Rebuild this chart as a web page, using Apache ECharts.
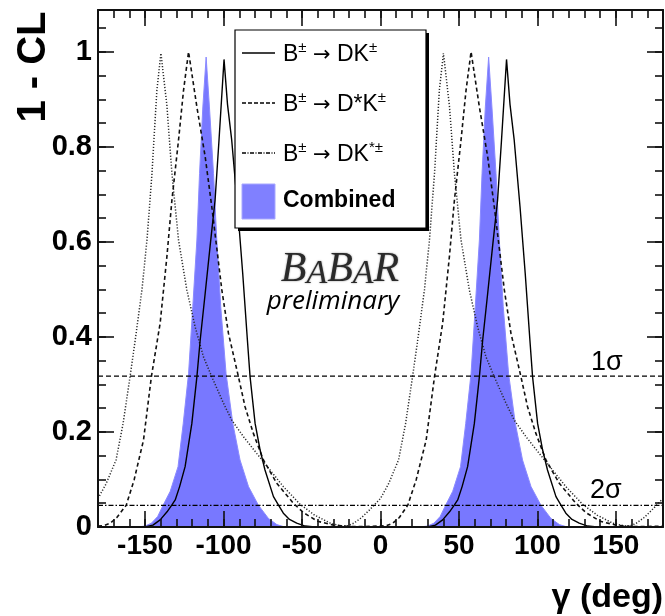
<!DOCTYPE html>
<html>
<head>
<meta charset="utf-8">
<script src="https://cdn.jsdelivr.net/npm/echarts@6/dist/echarts.min.js"></script>
<style>
  html, body { margin: 0; padding: 0; background: #ffffff; }
  #chart { width: 665px; height: 616px; }
</style>
</head>
<body>
<div id="chart"></div>
<script>
// 1 - CL scans versus gamma (deg), [gamma, 1-CL] pairs
const dkCurve = [
  [-180, 0], [-150, 0], [-145, 0.004], [-140.4, 0.015], [-136, 0.032], [-133, 0.046],
  [-130.8, 0.057], [-128, 0.085], [-124.5, 0.127], [-120.2, 0.218], [-117, 0.316],
  [-114.9, 0.393], [-111.7, 0.492], [-108.6, 0.590], [-105.4, 0.688], [-102.9, 0.814],
  [-99.7, 0.984], [-97.5, 0.89], [-94.8, 0.814], [-91.1, 0.674], [-87.8, 0.534],
  [-84.8, 0.393], [-83.1, 0.316], [-79.9, 0.218], [-76.7, 0.162], [-73.6, 0.120],
  [-68.2, 0.064], [-65, 0.046], [-61.9, 0.029], [-58, 0.016], [-53.4, 0.008],
  [-48, 0.002], [-42, 0], [30, 0], [35, 0.004], [39.6, 0.015], [44, 0.032], [47, 0.046],
  [49.2, 0.057], [52, 0.085], [55.5, 0.127], [59.8, 0.218], [63, 0.316], [65.1, 0.393],
  [68.3, 0.492], [71.4, 0.590], [74.6, 0.688], [77.1, 0.814], [80.3, 0.984], [82.5, 0.89],
  [85.2, 0.814], [88.9, 0.674], [92.2, 0.534], [95.2, 0.393], [96.9, 0.316], [100.1, 0.218],
  [103.3, 0.162], [106.4, 0.120], [111.8, 0.064], [115, 0.046], [118.1, 0.029], [122, 0.016],
  [126.6, 0.008], [132, 0.002], [138, 0], [180, 0]
];

const dstarkCurve = [
  [-180, 0.002], [-176, 0.003], [-172.2, 0.008], [-168, 0.02], [-162, 0.046], [-157, 0.099],
  [-151, 0.183], [-146, 0.316], [-140.4, 0.429], [-136.1, 0.569], [-132.9, 0.688],
  [-128.7, 0.814], [-125.5, 0.919], [-122.3, 1.0], [-117, 0.884], [-111.7, 0.779],
  [-107.5, 0.674], [-101.1, 0.499], [-96.9, 0.408], [-90.5, 0.316], [-86.3, 0.253],
  [-81, 0.197], [-74.6, 0.141], [-66.1, 0.092], [-55.5, 0.050], [-49, 0.030], [-40, 0.012],
  [-30, 0.004], [-20, 0.001], [-10, 0.001], [0, 0.002], [4, 0.003], [7.8, 0.008], [12, 0.02],
  [17.4, 0.046], [22.7, 0.099], [29.1, 0.183], [34.4, 0.316], [39.6, 0.429], [43.9, 0.569],
  [47.1, 0.688], [51.3, 0.814], [54.5, 0.919], [57.7, 1.0], [63, 0.884], [68.3, 0.779],
  [72.5, 0.674], [78.9, 0.499], [83.1, 0.408], [89.5, 0.316], [93.7, 0.253], [99, 0.197],
  [105.4, 0.141], [113.9, 0.092], [124.5, 0.050], [131, 0.030], [140, 0.012], [150, 0.004],
  [160, 0.001], [170, 0.001], [180, 0.002]
];

const dkstarCurve = [
  [-180, 0.06], [-175, 0.09], [-168.5, 0.141], [-164, 0.218], [-159.6, 0.316], [-156.3, 0.393],
  [-152, 0.499], [-148.8, 0.604], [-145.6, 0.744], [-142.5, 0.919], [-139.9, 0.997],
  [-136.1, 0.887], [-132.9, 0.744], [-128.7, 0.604], [-123.4, 0.499], [-118.1, 0.421],
  [-112.8, 0.358], [-107.5, 0.316], [-100, 0.260], [-94.8, 0.225], [-87.3, 0.190],
  [-78.9, 0.155], [-70.4, 0.120], [-61.9, 0.085], [-51.3, 0.048], [-42, 0.025], [-32, 0.008],
  [-26, 0.003], [-21, 0.002], [-17, 0.008], [-12, 0.02], [-7, 0.036], [0, 0.06], [5, 0.09],
  [11.5, 0.141], [16, 0.218], [20.4, 0.316], [23.7, 0.393], [28, 0.499], [31.2, 0.604],
  [34.4, 0.744], [37.5, 0.919], [40.1, 0.997], [43.9, 0.887], [47.1, 0.744], [51.3, 0.604],
  [56.6, 0.499], [61.9, 0.421], [67.2, 0.358], [72.5, 0.316], [80, 0.260], [85.2, 0.225],
  [92.7, 0.190], [101.1, 0.155], [109.6, 0.120], [118.1, 0.085], [128.7, 0.048], [138, 0.025],
  [148, 0.008], [154, 0.003], [159, 0.002], [163, 0.008], [168, 0.02], [173, 0.036], [180, 0.06]
];

const combinedCurve = [
  [-180, 0], [-155, 0], [-150, 0.002], [-146, 0.008], [-142, 0.022], [-138.5, 0.046],
  [-134, 0.075], [-129, 0.127], [-125.7, 0.218], [-122.3, 0.323], [-119.6, 0.464],
  [-117, 0.604], [-115.3, 0.744], [-113.2, 0.884], [-111.1, 0.989], [-109, 0.884],
  [-106.4, 0.744], [-104.3, 0.604], [-101.8, 0.464], [-98.4, 0.323], [-94.1, 0.218],
  [-89.5, 0.141], [-84.1, 0.085], [-77.8, 0.046], [-71.4, 0.018], [-66, 0.005], [-62, 0.001],
  [-58, 0], [25, 0], [30, 0.002], [34, 0.008], [38, 0.022], [41.5, 0.046], [46, 0.075],
  [51, 0.127], [54.3, 0.218], [57.7, 0.323], [60.4, 0.464], [63, 0.604], [64.7, 0.744],
  [66.8, 0.884], [68.9, 0.989], [71, 0.884], [73.6, 0.744], [75.7, 0.604], [78.2, 0.464],
  [81.6, 0.323], [85.9, 0.218], [90.5, 0.141], [95.9, 0.085], [102.2, 0.046], [108.6, 0.018],
  [114, 0.005], [118, 0.001], [122, 0], [180, 0]
];

// confidence levels drawn as horizontal reference lines
const sigmaLevels = [0.3173, 0.0455];
const sigmaLabels = ['1σ', '2σ'];

// axis ticks and labels
const xMajorTicks = [-150, -100, -50, 0, 50, 100, 150];
const yMajorTicks = [0, 0.2, 0.4, 0.6, 0.8, 1];
const X_MIN = -180, X_MAX = 180, Y_MIN = 0, Y_MAX = 1.088;

const xMinorTicks = [];
for (let v = -170; v <= 170; v += 10) xMinorTicks.push(v);
const yMinorTicks = [];
for (let i = 0; i <= 21; i++) yMinorTicks.push(Math.round(i * 5) / 100);

const FONT = "'Liberation Sans', Arial, Helvetica, sans-serif";
const SERIF = "'Liberation Serif', 'Times New Roman', serif";
const chart = echarts.init(document.getElementById('chart'), null, { renderer: 'canvas' });

function xAxisDef(position, ticks, len, labels, line) {
  return {
    type: 'value', position, min: X_MIN, max: X_MAX, z: 5,
    axisLine: { show: line, onZero: false, lineStyle: { color: '#111', width: 2 } },
    axisTick: { show: true, inside: true, length: len, customValues: ticks,
                lineStyle: { color: '#111', width: 1.6 } },
    axisLabel: labels ? { show: true, customValues: ticks, margin: 5, color: '#000',
                fontFamily: FONT, fontWeight: 'bold', fontSize: 28,
                formatter: v => String(v) } : { show: false },
    splitLine: { show: false }
  };
}
function yAxisDef(position, ticks, len, labels, line) {
  return {
    type: 'value', position, min: Y_MIN, max: Y_MAX, z: 5,
    axisLine: { show: line, onZero: false, lineStyle: { color: '#111', width: 2 } },
    axisTick: { show: true, inside: true, length: len, customValues: ticks,
                lineStyle: { color: '#111', width: 1.6 } },
    axisLabel: labels ? { show: true, customValues: ticks, margin: 6, color: '#000',
                fontFamily: FONT, fontWeight: 'bold', fontSize: 29,
                formatter: v => String(v) } : { show: false },
    splitLine: { show: false }
  };
}

const curveSeries = (name, data, style, z) => ({
  name, type: 'line', data, xAxisIndex: 0, yAxisIndex: 0, symbol: 'none',
  smooth: false, silent: true, z, lineStyle: style
});

const series = [
  {
    name: 'Combined', type: 'line', data: combinedCurve, xAxisIndex: 0, yAxisIndex: 0,
    symbol: 'none', silent: true, z: 1,
    lineStyle: { width: 1, color: '#8a8aff' },
    areaStyle: { color: '#7878ff', opacity: 1, origin: 'start' }
  },
  curveSeries('DKstar', dkstarCurve, { color: '#2a2a2a', width: 1.5, type: [1.2, 1.8] }, 3),
  curveSeries('DstarK', dstarkCurve, { color: '#111', width: 1.6, type: [4, 3] }, 3),
  curveSeries('DK', dkCurve, { color: '#000', width: 1.4, type: 'solid' }, 3),
  curveSeries('sigma1', [[X_MIN, sigmaLevels[0]], [X_MAX, sigmaLevels[0]]],
              { color: '#000', width: 1.2, type: [5, 3] }, 4),
  curveSeries('sigma2', [[X_MIN, sigmaLevels[1]], [X_MAX, sigmaLevels[1]]],
              { color: '#000', width: 1.3, type: [5, 2, 1.5, 2] }, 4)
];

// legend box drawn as graphics
const LX = 235, LY = 30, LW = 191, LH = 198;
const rich = {
  n: { fontFamily: FONT, fontSize: 23, lineHeight: 26, verticalAlign: 'bottom' },
  s: { fontFamily: FONT, fontSize: 15, lineHeight: 26, verticalAlign: 'top' },
  r: { fontFamily: "'DejaVu Sans', sans-serif", fontSize: 21, lineHeight: 26,
       verticalAlign: 'bottom' }
};
const rows = [53, 103, 153];
const rowText = [
  '{n|B}{s|±}{n| }{r|→}{n| DK}{s|±}',
  '{n|B}{s|±}{n| }{r|→}{n| D*K}{s|±}',
  '{n|B}{s|±}{n| }{r|→}{n| DK}{s|*±}'
];
const rowStyle = [
  { stroke: '#000', lineWidth: 1.4 },
  { stroke: '#000', lineWidth: 1.4, lineDash: [4, 2] },
  { stroke: '#000', lineWidth: 1.4, lineDash: [4, 1.5, 1, 1.5] }
];

const graphic = [
  { type: 'rect', z: 10, shape: { x: LX + 3, y: LY + 3, width: LW, height: LH },
    style: { fill: '#000' } },
  { type: 'rect', z: 11, shape: { x: LX, y: LY, width: LW, height: LH },
    style: { fill: '#fff', stroke: '#000', lineWidth: 1.2 } },
  { type: 'rect', z: 12, shape: { x: 242, y: 184, width: 33, height: 35 },
    style: { fill: '#8080ff', stroke: '#a8a8ff', lineWidth: 1 } },
  { type: 'text', z: 12, x: 283, y: 201,
    style: { text: 'Combined', fontFamily: FONT, fontSize: 23, fontWeight: 'bold',
             fill: '#000', verticalAlign: 'middle' } },
  // experiment label
  { type: 'text', z: 6, x: 340, y: 271,
    style: {
      text: '{b|B}{a|A}{b|B}{a|A}{b|R}', align: 'center', verticalAlign: 'middle',
      fill: '#2a2a2a', textShadowColor: 'rgba(0,0,0,0.45)', textShadowBlur: 2,
      rich: {
        b: { fontFamily: SERIF, fontStyle: 'italic', fontSize: 42, lineHeight: 40,
             verticalAlign: 'bottom', fill: '#2a2a2a' },
        a: { fontFamily: SERIF, fontStyle: 'italic', fontSize: 34, lineHeight: 40,
             verticalAlign: 'bottom', fill: '#2a2a2a' }
      }
    } },
  { type: 'text', z: 6, x: 333, y: 302,
    style: { text: 'preliminary', align: 'center', verticalAlign: 'middle',
             fontFamily: "'Open Sans', 'Liberation Sans', sans-serif", fontStyle: 'italic',
             fontSize: 26, fill: '#000' } },
  // axis titles
  { type: 'text', z: 6, x: 34, y: 67, rotation: Math.PI / 2,
    style: { text: '1 - CL', align: 'center', verticalAlign: 'middle',
             fontFamily: FONT, fontWeight: 'bold', fontSize: 40, fill: '#000' } },
  { type: 'text', z: 6, x: 663, y: 598,
    style: { text: 'γ (deg)', align: 'right', verticalAlign: 'middle',
             fontFamily: FONT, fontWeight: 'bold', fontSize: 34, fill: '#000' } },
  // confidence level labels
  { type: 'text', z: 6, x: 591, y: 363,
    style: { text: sigmaLabels[0], verticalAlign: 'middle', fontFamily: FONT,
             fontSize: 27, fill: '#000' } },
  { type: 'text', z: 6, x: 590, y: 491,
    style: { text: sigmaLabels[1], verticalAlign: 'middle', fontFamily: FONT,
             fontSize: 27, fill: '#000' } }
];
rows.forEach((ry, i) => {
  graphic.push({ type: 'line', z: 12, shape: { x1: 242, y1: ry, x2: 275, y2: ry },
                 style: rowStyle[i] });
  graphic.push({ type: 'text', z: 12, x: 283, y: ry,
                 style: { text: rowText[i], rich, fill: '#000', verticalAlign: 'middle' } });
});

chart.setOption({
  animation: false,
  backgroundColor: '#ffffff',
  grid: { left: 98, right: 2, top: 10, bottom: 89, containLabel: false },
  xAxis: [
    xAxisDef('bottom', xMajorTicks, 16, true, true),
    xAxisDef('bottom', xMinorTicks, 8, false, false),
    xAxisDef('top', xMajorTicks, 16, false, true),
    xAxisDef('top', xMinorTicks, 8, false, false)
  ],
  yAxis: [
    yAxisDef('left', yMajorTicks, 16, true, true),
    yAxisDef('left', yMinorTicks, 8, false, false),
    yAxisDef('right', yMajorTicks, 16, false, true),
    yAxisDef('right', yMinorTicks, 8, false, false)
  ],
  series,
  graphic
});
</script>
</body>
</html>
